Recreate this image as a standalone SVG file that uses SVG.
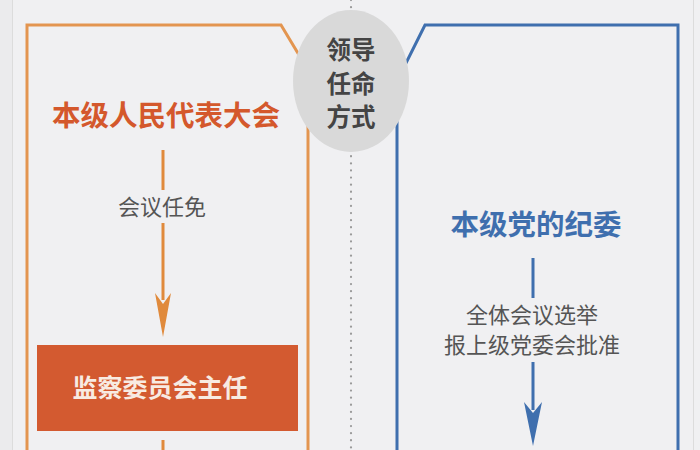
<svg xmlns="http://www.w3.org/2000/svg" width="700" height="450" viewBox="0 0 700 450">
  <style>
    .cjk { font-family: "Noto Sans CJK SC", "Noto Sans CJK TC", sans-serif; text-anchor: middle; }
    .title { font-size: 28.5px; font-weight: bold; }
    .label { font-size: 22px; fill: #555555; }
    .frame { fill: none; stroke-width: 3; }
    .conn { fill: none; stroke-width: 3; }
  </style>
  <rect x="0" y="0" width="700" height="450" fill="#f0f0f2"/>
  <rect x="0" y="0" width="12" height="450" fill="#ebebed"/>
  <line x1="12.5" y1="0" x2="12.5" y2="450" stroke="#dcdcdc" stroke-width="1"/>
  <line x1="693.5" y1="0" x2="693.5" y2="450" stroke="#dcdcdc" stroke-width="1"/>

  <!-- center dotted divider -->
  <line x1="351" y1="0" x2="351" y2="450" stroke="#9a9a9a" stroke-width="2.2" stroke-dasharray="0.1 7" stroke-linecap="round"/>

  <g id="left-frame">
    <path class="frame" stroke="#e39550" d="M27,452 V25 H281 L308,70 V452"/>
  </g>
  <g id="right-frame">
    <path class="frame" stroke="#3f6fae" d="M397,452 V81 L425,25 H678 V452"/>
  </g>

  <g id="header">
    <ellipse cx="351" cy="81" rx="58" ry="71" fill="#d9d9d9"/>
    <g class="cjk" font-size="24.5" font-weight="bold" fill="#444444">
      <text x="351" y="59">领导</text>
      <text x="351" y="93">任命</text>
      <text x="351" y="126">方式</text>
    </g>
  </g>

  <g id="connectors">
    <line class="conn" stroke="#e08a3c" x1="163" y1="150" x2="163" y2="190"/>
    <line class="conn" stroke="#e08a3c" x1="163" y1="223" x2="163" y2="300"/>
    <path fill="#e08a3c" d="M163,337 L171,293 L163,304 L155,293 Z"/>
    <line class="conn" stroke="#e08a3c" x1="163" y1="440" x2="163" y2="452"/>

    <line class="conn" stroke="#3f6fae" x1="533" y1="258" x2="533" y2="298"/>
    <line class="conn" stroke="#3f6fae" x1="533" y1="362" x2="533" y2="410"/>
    <path fill="#3f6fae" d="M533,446 L542,402 L533,413 L524,402 Z"/>
  </g>

  <g id="node-renda">
    <text class="cjk title" x="166" y="126" fill="#d4582c">本级人民代表大会</text>
  </g>
  <g id="label-renmian">
    <text class="cjk label" x="162" y="215">会议任免</text>
  </g>
  <g id="node-jiancha">
    <rect x="37" y="345" width="261" height="86" fill="#d35a30"/>
    <text class="cjk" x="160" y="397" font-size="25" font-weight="bold" fill="#f8ebe2">监察委员会主任</text>
  </g>
  <g id="node-jiwei">
    <text class="cjk title" x="536" y="235" fill="#3f6fae">本级党的纪委</text>
  </g>
  <g id="label-xuanju">
    <text class="cjk label" x="532" y="323">全体会议选举</text>
    <text class="cjk label" x="532" y="353">报上级党委会批准</text>
  </g>
</svg>
